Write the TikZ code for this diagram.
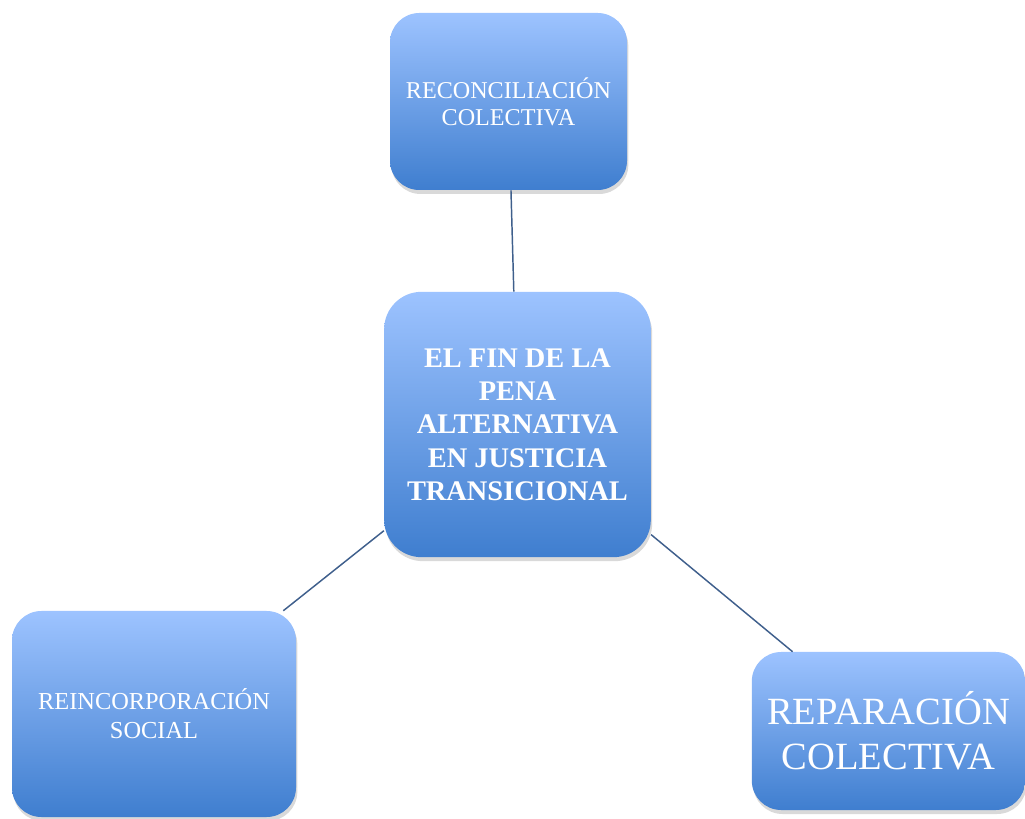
\documentclass[tikz,border=0pt]{standalone}
\usepackage{fontspec}
\setmainfont{Liberation Serif}
\usepackage{xcolor}
\usetikzlibrary{
    positioning,
    shadows
}

\definecolor{boxtop}{HTML}{9DC3FF}
\definecolor{boxbottom}{HTML}{3F7ECF}
\definecolor{linkblue}{HTML}{3F5F8C}

\begin{document}
\begin{tikzpicture}[
    x=0.75pt,
    y=0.75pt,
    idea/.style={
        rectangle,
        rounded corners=22pt,
        top color=boxtop,
        bottom color=boxbottom,
        draw=none,
        align=center,
        text=white,
        inner sep=4pt,
        drop shadow={opacity=0.3, shadow xshift=1pt, shadow yshift=-3pt}
    },
    link/.style={
        draw=linkblue,
        line width=1.1pt
    }
]

\useasboundingbox (0,0) rectangle (1025,818);

% =========================================================
% Main objects
% =========================================================
\node[idea, minimum width=200pt, minimum height=199pt, rounded corners=28pt,
      font=\fontsize{21.3}{25}\selectfont\bfseries] (fin) at (517.5,393.5) {
EL FIN DE LA\\
PENA\\
ALTERNATIVA\\
EN JUSTICIA\\
TRANSICIONAL
};

\node[idea, minimum width=177.75pt, minimum height=132.75pt,
      font=\fontsize{18.1}{20.5}\selectfont] (reconciliacion) at (508.5,716.5) {
RECONCILIACIÓN\\
COLECTIVA
};

\node[idea, minimum width=213pt, minimum height=154.5pt,
      font=\fontsize{18.3}{21.75}\selectfont] (reincorporacion) at (154,104) {
REINCORPORACIÓN\\
SOCIAL
};

\node[idea, minimum width=205pt, minimum height=118.5pt,
      font=\fontsize{28.9}{34}\selectfont] (reparacion) at (888.5,87) {
REPARACIÓN\\
COLECTIVA
};

% =========================================================
% Relations
% =========================================================
\draw[link] (reconciliacion) -- (fin);
\draw[link] (fin) -- (reincorporacion);
\draw[link] (fin) -- (reparacion);

\end{tikzpicture}
\end{document}
